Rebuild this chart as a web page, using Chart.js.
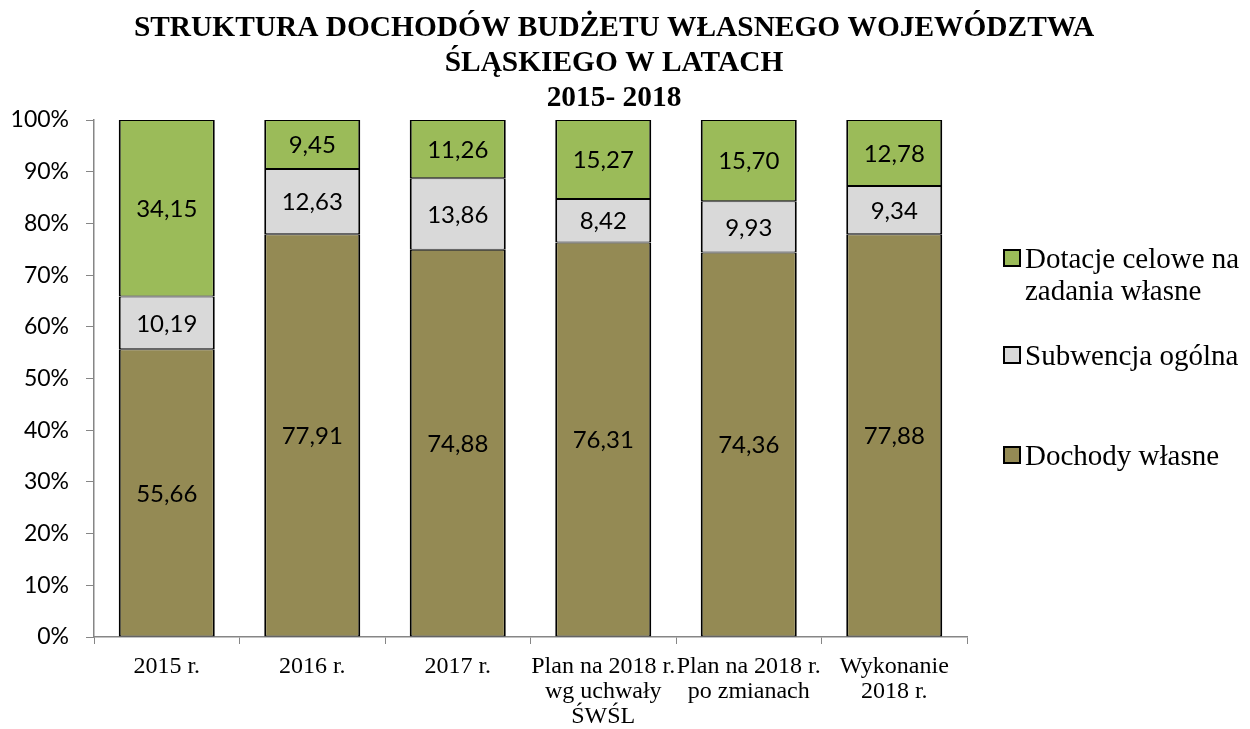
<!DOCTYPE html>
<html>
<head>
<meta charset="utf-8">
<script src="https://cdn.jsdelivr.net/npm/chart.js@4.4.1/dist/chart.umd.min.js"></script>
<style>
  html, body { margin: 0; padding: 0; background: #fff; }
  #wrap { width: 1250px; height: 729px; }
</style>
</head>
<body>
<div id="wrap"><canvas id="chart" width="1250" height="729"></canvas></div>
<script>
const categories = [
  ["2015 r."],
  ["2016 r."],
  ["2017 r."],
  ["Plan na 2018 r.", "wg uchwały", "ŚWŚL"],
  ["Plan na 2018 r.", "po zmianach"],
  ["Wykonanie", "2018 r."]
];
const dochodyWlasne = [55.66, 77.91, 74.88, 76.31, 74.36, 77.88];
const subwencja = [10.19, 12.63, 13.86, 8.42, 9.93, 9.34];
const dotacje = [34.15, 9.45, 11.26, 15.27, 15.70, 12.78];
const yTicks = [0, 10, 20, 30, 40, 50, 60, 70, 80, 90, 100];

const titleLines = [
  "STRUKTURA DOCHODÓW BUDŻETU WŁASNEGO WOJEWÓDZTWA",
  "ŚLĄSKIEGO W LATACH",
  "2015- 2018"
];

const serif = "'Liberation Serif', 'Times New Roman', serif";
const sans = "Lato, 'Open Sans', sans-serif";

// title centred on the whole picture, not only over the plot
const pageTitle = {
  id: "pageTitle",
  afterDraw(chart) {
    const ctx = chart.ctx;
    ctx.save();
    ctx.font = "bold 29.4px " + serif;
    ctx.fillStyle = "#000";
    ctx.textAlign = "center";
    ctx.textBaseline = "middle";
    titleLines.forEach((t, i) => ctx.fillText(t, 614, 28 + i * 35));
    ctx.restore();
  }
};

// value labels in the middle of each segment
const barLabels = {
  id: "barLabels",
  afterDatasetsDraw(chart) {
    const ctx = chart.ctx;
    ctx.save();
    ctx.font = "24px " + sans;
    ctx.fillStyle = "#000";
    ctx.textAlign = "center";
    ctx.textBaseline = "middle";
    chart.data.datasets.forEach((ds, i) => {
      chart.getDatasetMeta(i).data.forEach((bar, j) => {
        const v = ds.data[j];
        const y = (bar.y + bar.base) / 2;
        ctx.fillText(v.toFixed(2).replace(".", ","), bar.x, y + 1);
      });
    });
    ctx.restore();
  }
};

// legend on the right, top item first
const sideLegend = {
  id: "sideLegend",
  afterDraw(chart) {
    const ctx = chart.ctx;
    const items = [
      { ds: 2, lines: ["Dotacje celowe na", "zadania własne"], y: 258 },
      { ds: 1, lines: ["Subwencja ogólna"], y: 355 },
      { ds: 0, lines: ["Dochody własne"], y: 455 }
    ];
    ctx.save();
    ctx.font = "29px " + serif;
    ctx.textBaseline = "middle";
    ctx.textAlign = "left";
    items.forEach(it => {
      const ds = chart.data.datasets[it.ds];
      ctx.fillStyle = ds.backgroundColor;
      ctx.fillRect(1004, it.y - 8, 16, 16);
      ctx.strokeStyle = "#000";
      ctx.lineWidth = 2;
      ctx.strokeRect(1004, it.y - 8, 16, 16);
      ctx.fillStyle = "#000";
      it.lines.forEach((t, k) => ctx.fillText(t, 1025, it.y + 2 + k * 32));
    });
    ctx.restore();
  }
};

const border = { left: 2, right: 2, top: 1, bottom: 1 };

new Chart(document.getElementById("chart"), {
  type: "bar",
  data: {
    labels: categories,
    datasets: [
      { label: "Dochody własne", data: dochodyWlasne, backgroundColor: "#948A54", borderColor: "#000", borderWidth: border, borderSkipped: false },
      { label: "Subwencja ogólna", data: subwencja, backgroundColor: "#D9D9D9", borderColor: "#000", borderWidth: border, borderSkipped: false },
      { label: "Dotacje celowe na zadania własne", data: dotacje, backgroundColor: "#9BBB59", borderColor: "#000", borderWidth: border, borderSkipped: false }
    ]
  },
  options: {
    responsive: false,
    animation: false,
    layout: { padding: { left: 0, right: 283, top: 120, bottom: 0 } },
    datasets: { bar: { barPercentage: 0.66, categoryPercentage: 1 } },
    plugins: {
      legend: { display: false },
      tooltip: { enabled: false },
      title: { display: false }
    },
    scales: {
      x: {
        stacked: true,
        afterFit(axis) { axis.height = 92; },
        grid: { drawOnChartArea: false, tickLength: 7, color: "#868686", offset: true },
        border: { color: "#868686", width: 1.5 },
        ticks: {
          color: "#000",
          font: { family: serif, size: 24, lineHeight: 1.04 },
          padding: 10,
          maxRotation: 0,
          autoSkip: false
        }
      },
      y: {
        stacked: true,
        min: 0,
        max: 100,
        afterBuildTicks(axis) { axis.ticks = yTicks.map(v => ({ value: v })); },
        afterFit(axis) { axis.width = 94; },
        grid: { drawOnChartArea: false, tickLength: 8, color: "#868686" },
        border: { color: "#868686", width: 1.5 },
        ticks: {
          color: "#000",
          font: { family: sans, size: 23 },
          padding: 17,
          callback: v => v + "%"
        }
      }
    }
  },
  plugins: [pageTitle, barLabels, sideLegend]
});
</script>
</body>
</html>
